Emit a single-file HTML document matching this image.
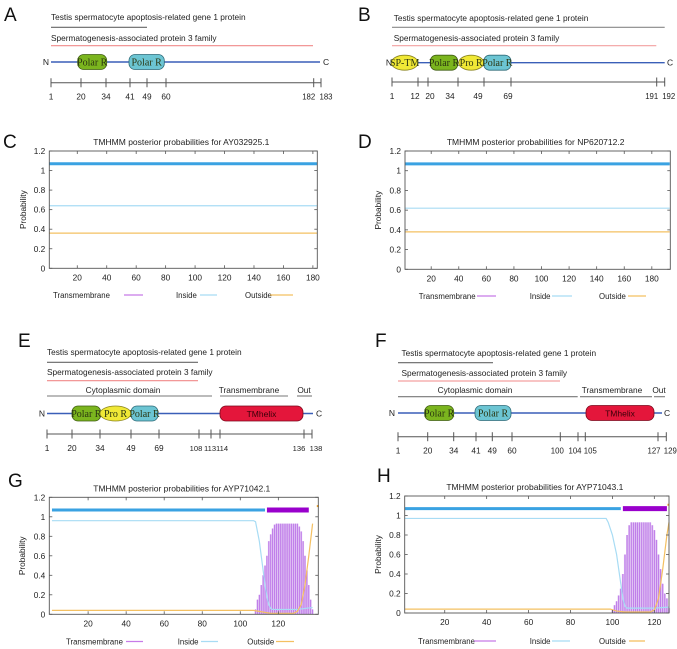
<!DOCTYPE html>
<html><head><meta charset="utf-8">
<style>
html,body{margin:0;padding:0;background:#fff;}
svg{display:block;font-family:"Liberation Sans",sans-serif;}
</style></head>
<body>
<svg id="fig" width="677" height="649" viewBox="0 0 677 649" xmlns="http://www.w3.org/2000/svg"></svg>
<script>
// ---------- chart data ----------
const yTicks=[0,0.2,0.4,0.6,0.8,1,1.2];
const yTickLabels=["0","0.2","0.4","0.6","0.8","1","1.2"];
const xTicksCD=[20,40,60,80,100,120,140,160,180];
const xTicksGH=[20,40,60,80,100,120];
// C: AY032925.1
const cInsideX=[1,183]; const cInsideY=[0.64,0.64];
const cOutsideX=[1,183]; const cOutsideY=[0.36,0.36];
const cTopoInside=[1,183]; const cTopoTM=[];
const cTmStart=1; const cTm=[];
// D: NP620712.2
const dInsideX=[1,193]; const dInsideY=[0.62,0.62];
const dOutsideX=[1,193]; const dOutsideY=[0.38,0.38];
const dTopoInside=[1,193]; const dTopoTM=[];
const dTmStart=1; const dTm=[];
// G: AYP71042.1
const gInsideX=[1,107,108,109,110,111,112,113,114,115,116,117,130,138];
const gInsideY=[0.96,0.96,0.95,0.85,0.75,0.6,0.45,0.3,0.18,0.1,0.06,0.05,0.05,0.07];
const gOutsideX=[1,107,110,113,116,128,130,132,134,136,138];
const gOutsideY=[0.04,0.04,0.03,0.02,0.01,0.01,0.03,0.1,0.3,0.6,0.93];
const gTopoInside=[1,113]; const gTopoTM=[114,136];
const gTmStart=108;
const gTm=[0.05,0.15,0.2,0.3,0.4,0.5,0.6,0.75,0.82,0.88,0.92,0.93,0.93,0.93,0.93,0.93,0.93,0.93,0.93,0.93,0.93,0.93,0.93,0.9,0.85,0.75,0.6,0.45,0.3,0.15,0.05];
// H: AYP71043.1
const hInsideX=[1,97,98,100,102,103,104,105,106,107,120,127];
const hInsideY=[0.97,0.97,0.93,0.8,0.6,0.45,0.3,0.15,0.07,0.05,0.05,0.06];
const hOutsideX=[1,99,102,106,118,120,122,124,126,127];
const hOutsideY=[0.04,0.04,0.02,0.01,0.01,0.03,0.15,0.45,0.8,0.93];
const hTopoInside=[1,104]; const hTopoTM=[105,126];
const hTmStart=100;
const hTm=[0.03,0.08,0.12,0.18,0.25,0.4,0.6,0.8,0.9,0.93,0.93,0.93,0.93,0.93,0.93,0.93,0.93,0.93,0.93,0.9,0.85,0.75,0.6,0.45,0.3,0.2,0.15,0.05];

const NS="http://www.w3.org/2000/svg";
const svg=document.getElementById('fig');
function mk(tag,attrs,parent){const e=document.createElementNS(NS,tag);for(const k in attrs)e.setAttribute(k,attrs[k]);(parent||svg).appendChild(e);return e;}
function txt(s,x,y,size,anchor,parent,extra){const t=mk('text',Object.assign({x:x,y:y,'font-size':size,'text-anchor':anchor||'start',fill:'#222'},extra||{}),parent);t.textContent=s;return t;}

// ---------- panel labels ----------
[['A',4,21],['B',358,21],['C',3,148],['D',358,148],['E',18,347],['F',375,347],['G',8,487],['H',377,482]].forEach(p=>{
  const t=txt(p[0],p[1],p[2],19,'start',svg,{fill:'#111'});
  
  
});

// ---------- domain diagrams ----------
function box(g,kind,x1,x2,y1,y2,label){
  let colors={green:['#7bb51e','#3f5d12'],blue:['#6cc5d3','#2e6a78'],yellow:['#f0e836','#8a8420'],red:['#e4163b','#7a0a1c']}[kind[1]];
  if(kind[0]==='rect') mk('rect',{x:x1,y:y1,width:x2-x1,height:y2-y1,rx:6,fill:colors[0],stroke:colors[1],'stroke-width':0.8},g);
  else mk('ellipse',{cx:(x1+x2)/2,cy:(y1+y2)/2,rx:(x2-x1)/2,ry:(y2-y1)/2,fill:colors[0],stroke:colors[1],'stroke-width':0.8},g);
  const serif=label!=='TMhelix';
  const t=txt(label,(x1+x2)/2,(y1+y2)/2+3.5,serif?10:8.5,'middle',g,{'font-family':serif?'"Liberation Serif",serif':'"Liberation Sans",sans-serif',fill:serif?'#2a3510':'#3a0008'});
  return t;
}
function diagram(d){
  const g=mk('g',{});
  
  
  d.texts.forEach(t=>txt(t[0],t[1],t[2],8.3,t[3]||'start',g,{fill:'#222'}));
  d.lines.forEach(l=>mk('line',{x1:l[0],x2:l[1],y1:l[2],y2:l[2],stroke:l[3],'stroke-width':1.1},g));
  txt('N',d.nx,d.by+3,8.5,'end',g);
  mk('line',{x1:d.bx1,x2:d.bx2,y1:d.by,y2:d.by,stroke:'#3a5fb8','stroke-width':1.4},g);
  txt('C',d.cx,d.by+3,8.5,'start',g);
  d.boxes.forEach(b=>box(g,b[0],b[1],b[2],d.by-7.5,d.by+7.5,b[3]));
  const s0=d.ticks[0][1], s1=d.ticks[d.ticks.length-1][1];
  mk('line',{x1:s0,x2:s1,y1:d.sy,y2:d.sy,stroke:'#555','stroke-width':1},g);
  d.ticks.forEach(t=>{
    mk('line',{x1:t[1],x2:t[1],y1:d.sy-4.5,y2:d.sy+4.5,stroke:'#555','stroke-width':1},g);
    txt(String(t[0]),t[1]+(t[2]||0),d.sy+17,t[3]||8.3,'middle',g);
  });
}
const famText1='Testis spermatocyte apoptosis-related gene 1 protein';
const famText2='Spermatogenesis-associated protein 3 family';
diagram({name:'domain-diagram-a',
  texts:[[famText1,51,20],[famText2,51,41]],
  lines:[[51,147,27.3,'#666'],[51,313,45.7,'#f08a8a']],
  nx:49,bx1:51,bx2:320,by:62,cx:323,
  boxes:[[['rect','green'],77.7,106.7,'Polar R'],[['rect','blue'],129,164.3,'Polar R']],
  sy:82.7,ticks:[[1,51],[20,81],[34,106],[41,130],[49,147],[60,166],[182,313.7,-5,7.8],[183,321,5,7.8]]});
diagram({name:'domain-diagram-b',
  texts:[[famText1,393.7,21],[famText2,393.7,41]],
  lines:[[392,664.7,27.3,'#888'],[392,656.3,45.7,'#f2a0a0']],
  nx:392,bx1:392,bx2:664.7,by:62.7,cx:667,
  boxes:[[['ellipse','yellow'],391.3,418,'SP-TM'],[['rect','green'],430.3,457.7,'Polar R'],[['ellipse','yellow'],458.7,483.7,'Pro R'],[['rect','blue'],483.7,511,'Polar R']],
  sy:82,ticks:[[1,392],[12,418,-3],[20,428,2],[34,458,-8],[49,484,-6],[69,511,-3],[191,656.7,-5,7.8],[192,664.7,4,7.8]]});
diagram({name:'domain-diagram-e',
  texts:[[famText1,47,355],[famText2,47,375],['Cytoplasmic domain',123,393,'middle'],['Transmembrane',249,393,'middle'],['Out',304,393,'middle']],
  lines:[[47,198,362.3,'#666'],[47,198,380.7,'#f08a8a'],[47,212,396,'#777'],[220,288,396,'#777'],[297,312,396,'#777']],
  nx:45,bx1:47,bx2:313,by:413.5,cx:316,
  boxes:[[['rect','green'],72,100.7,'Polar R'],[['ellipse','yellow'],100,131,'Pro R'],[['rect','blue'],131,158,'Polar R'],[['rect','red'],220,303,'TMhelix']],
  sy:434,ticks:[[1,47],[20,72],[34,100],[49,131],[69,159],[108,199,-3,7.6],[113,211,-1,7.6],[114,220,2,7.6],[136,304,-5,7.6],[138,312,4,7.6]]});
diagram({name:'domain-diagram-f',
  texts:[[famText1,401.5,356],[famText2,401.5,376],['Cytoplasmic domain',475,393,'middle'],['Transmembrane',612,393,'middle'],['Out',659,393,'middle']],
  lines:[[398,493,362.7,'#666'],[398,560,381,'#f08a8a'],[398,577.7,396.7,'#777'],[580,652,396.7,'#777'],[654,665,396.7,'#777']],
  nx:395,bx1:398,bx2:662,by:413,cx:664,
  boxes:[[['rect','green'],424.7,453.7,'Polar R'],[['rect','blue'],475,511,'Polar R'],[['rect','red'],586,654,'TMhelix']],
  sy:436.7,ticks:[[1,398],[20,427.7],[34,453.7],[41,476],[49,492.3],[60,512],[100,560.3,-3,7.8],[104,578,-3,7.8],[105,585.3,5,7.8],[127,658,-4,7.8],[129,666.3,4,7.8]]});

// ---------- TMHMM charts ----------
function chart(c){
  const g=mk('g',{});
  
  
  const sx=v=>c.left+(v-c.xmin)/(c.xmax-c.xmin)*(c.right-c.left);
  const sy=v=>c.bottom-v/1.2*(c.bottom-c.top);
  const title=txt(c.title,(c.left+c.right)/2-2,c.top-6,8.5,'middle',g);
  
  
  const bars=mk('g',{},g);
  
  
  const uw=(c.right-c.left)/(c.xmax-c.xmin);
  c.tm.forEach((v,i)=>{
    const r=c.tmStart+i;
    mk('rect',{x:sx(r)-uw/2,y:sy(v),width:uw,height:sy(0)-sy(v),fill:'#dcbaf2'},bars);
    mk('line',{x1:sx(r),x2:sx(r),y1:sy(v),y2:sy(0),stroke:'#b566e6','stroke-width':0.7},bars);
  });
  function poly(xs,ys,color,w,nm){
    const p=mk('polyline',{points:xs.map((x,i)=>sx(x)+','+sy(ys[i])).join(' '),fill:'none',stroke:color,'stroke-width':w},g);
    
    
  }
  poly(c.inX,c.inY,'#a8dcf4',1.2,'inside-line');
  poly(c.outX,c.outY,'#f4c062',1.2,'outside-line');
  if(c.topoIn.length){const l=mk('line',{x1:sx(c.topoIn[0]),x2:sx(c.topoIn[1]),y1:sy(1.07),y2:sy(1.07),stroke:'#3aa2e2','stroke-width':3},g);
    
    }
  if(c.topoTM.length){const l=mk('line',{x1:sx(c.topoTM[0]),x2:sx(c.topoTM[1]),y1:sy(1.07),y2:sy(1.07),stroke:'#9900cc','stroke-width':5},g);
    
    
    mk('rect',{x:c.right-1.5,y:sy(1.11)-1,width:2,height:2,fill:'#f0a020'},g);}
  mk('rect',{x:c.left,y:c.top,width:c.right-c.left,height:c.bottom-c.top,fill:'none',stroke:'#555','stroke-width':0.9},g);
  yTicks.forEach((v,i)=>{
    mk('line',{x1:c.left,x2:c.left+3,y1:sy(v),y2:sy(v),stroke:'#555','stroke-width':0.8},g);
    mk('line',{x1:c.right-3,x2:c.right,y1:sy(v),y2:sy(v),stroke:'#555','stroke-width':0.8},g);
    txt(yTickLabels[i],c.left-4,sy(v)+3,8.3,'end',g);
  });
  c.xt.forEach(v=>{
    mk('line',{x1:sx(v),x2:sx(v),y1:c.bottom,y2:c.bottom-3,stroke:'#555','stroke-width':0.8},g);
    mk('line',{x1:sx(v),x2:sx(v),y1:c.top,y2:c.top+3,stroke:'#555','stroke-width':0.8},g);
    txt(String(v),sx(v),c.bottom+12,8.3,'middle',g);
  });
  const yl=txt('Probability',0,0,8.3,'middle',g,{transform:'translate('+c.ylx+','+((c.top+c.bottom)/2)+') rotate(-90)'});
  
  
  const lg=mk('g',{},g);
  
  
  const names=['Transmembrane','Inside','Outside'], cols=['#c77be8','#a8dcf4','#f4c062'];
  names.forEach((n,i)=>{
    const e=c.leg[i];
    const t=txt(n,e[0],c.legY+3,7.8,'start',lg);
    
    
    mk('line',{x1:e[1],x2:e[2],y1:c.legY,y2:c.legY,stroke:cols[i],'stroke-width':1.3},lg);
  });
}
chart({name:'chart-c',title:'TMHMM posterior probabilities for AY032925.1',left:49.3,right:317.3,top:151,bottom:268.3,xmin:1,xmax:183,xt:xTicksCD,
  inX:cInsideX,inY:cInsideY,outX:cOutsideX,outY:cOutsideY,topoIn:cTopoInside,topoTM:cTopoTM,tmStart:cTmStart,tm:cTm,ylx:26,legY:295,
  leg:[[53,124,143],[176,200,217],[245,270,293]]});
chart({name:'chart-d',title:'TMHMM posterior probabilities for NP620712.2',left:405,right:670.3,top:151,bottom:269.3,xmin:1,xmax:193.4,xt:xTicksCD,
  inX:dInsideX,inY:dInsideY,outX:dOutsideX,outY:dOutsideY,topoIn:dTopoInside,topoTM:dTopoTM,tmStart:dTmStart,tm:dTm,ylx:381,legY:296,
  leg:[[418.7,477,496],[529.7,552,572],[599,628,646]]});
chart({name:'chart-g',title:'TMHMM posterior probabilities for AYP71042.1',left:49.3,right:318.3,top:497.3,bottom:614.3,xmin:-0.4,xmax:141,xt:xTicksGH,
  inX:gInsideX,inY:gInsideY,outX:gOutsideX,outY:gOutsideY,topoIn:gTopoInside,topoTM:gTopoTM,tmStart:gTmStart,tm:gTm,ylx:25,legY:641.5,
  leg:[[66,126,143],[177.7,201,218],[247.3,276,294]]});
chart({name:'chart-h',title:'TMHMM posterior probabilities for AYP71043.1',left:404.7,right:669,top:496,bottom:613,xmin:0.9,xmax:127,xt:xTicksGH,
  inX:hInsideX,inY:hInsideY,outX:hOutsideX,outY:hOutsideY,topoIn:hTopoInside,topoTM:hTopoTM,tmStart:hTmStart,tm:hTm,ylx:381,legY:641,
  leg:[[418,474,496],[529.7,552,570],[599,629,645]]});
</script>
</body></html>
